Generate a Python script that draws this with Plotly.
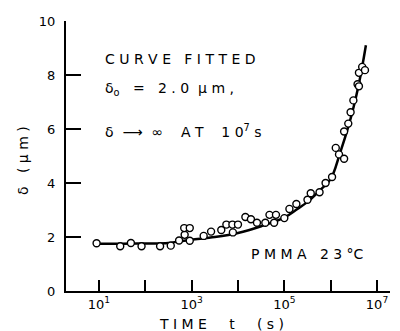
import plotly.graph_objects as go

# measured data points (time in s, delta in micrometres)
pt_logt = [0.95, 1.46, 1.69, 1.92, 2.32, 2.55, 2.73, 2.85, 2.84, 2.96, 2.96,
           3.26, 3.42, 3.64, 3.75, 3.88, 4.00, 3.89, 4.16, 4.28, 4.41, 4.59,
           4.68, 4.82, 4.78, 5.00, 5.11, 5.26, 5.50, 5.57, 5.76, 5.89, 6.03,
           6.11, 6.18, 6.29, 6.29, 6.38, 6.43, 6.49, 6.58, 6.61, 6.61, 6.68, 6.74]
pt_delta = [1.77, 1.66, 1.78, 1.66, 1.66, 1.68, 1.87, 2.08, 2.33, 2.33, 1.86,
            2.04, 2.20, 2.26, 2.46, 2.46, 2.46, 2.17, 2.74, 2.66, 2.53, 2.53,
            2.82, 2.82, 2.53, 2.70, 3.04, 3.22, 3.38, 3.62, 3.66, 4.00, 4.22,
            5.30, 5.06, 4.90, 5.91, 6.20, 6.62, 7.06, 7.66, 7.58, 8.08, 8.30, 8.18]
pt_t = [10 ** v for v in pt_logt]

# fitted curve
fit_logt = [0.95, 1.5, 2.0, 2.5, 2.8, 3.0, 3.5, 4.0, 4.5, 5.0, 5.25, 5.5,
            5.75, 6.0, 6.2, 6.4, 6.5, 6.6, 6.7, 6.76]
fit_delta = [1.75, 1.75, 1.76, 1.78, 1.85, 1.9, 2.0, 2.15, 2.4, 2.72, 3.0, 3.3,
             3.7, 4.15, 5.1, 6.2, 6.85, 7.6, 8.5, 9.1]
fit_t = [10 ** v for v in fit_logt]

x_tickvals = [1e1, 1e3, 1e5, 1e7]
x_ticktext = ["10<sup>1</sup>", "10<sup>3</sup>", "10<sup>5</sup>", "10<sup>7</sup>"]
x_minorvals = [1e2, 1e4, 1e6]
y_tickvals = [0, 2, 4, 6, 8, 10]

FONT = "DejaVu Sans"


def spaced(s):
    return " ".join(s)


fig = go.Figure()
fig.add_trace(go.Scatter(x=fit_t, y=fit_delta, mode="lines",
                         line=dict(color="black", width=2.5, shape="spline"),
                         hoverinfo="skip", showlegend=False))
fig.add_trace(go.Scatter(x=pt_t, y=pt_delta, mode="markers",
                         marker=dict(symbol="circle", size=7, color="white",
                                     line=dict(color="black", width=1.4)),
                         showlegend=False))

ann = dict(showarrow=False, font=dict(family=FONT, size=14, color="black"),
           xanchor="left", yanchor="middle")
fig.add_annotation(x=1.09, y=8.59, text=spaced("CURVE FITTED"), **ann)
fig.add_annotation(x=1.09, y=7.47, text="δ<sub>o</sub>   =   2 . 0  μ m ,", **ann)
fig.add_annotation(x=1.09, y=5.92, text="δ  ⟶  ∞    A T    1 0<sup>7</sup> s", **ann)
fig.add_annotation(x=4.23, y=1.37, text="P M M A   2 3 °C", **ann)
fig.add_annotation(x=3.65, yref="paper", y=-0.123,
                   text=spaced("TIME") + "     t     ( s )", **{**ann, "xanchor": "center"})
fig.add_annotation(xref="paper", x=-0.133, y=4.85, text="δ   ( μ m )", textangle=-90,
                   **{**ann, "xanchor": "center"})

fig.update_xaxes(type="log", range=[0.29, 7.28], tickvals=x_tickvals,
                 ticktext=x_ticktext, ticks="inside", ticklen=11, tickwidth=1.5,
                 tickcolor="black", showline=True, linecolor="black", linewidth=2,
                 minor=dict(tickvals=x_minorvals, ticks="inside", ticklen=11,
                            tickwidth=1.5, tickcolor="black", showgrid=False),
                 showgrid=False, zeroline=False, ticklabeloverflow="allow",
                 tickfont=dict(family=FONT, size=13, color="black"))
fig.update_yaxes(range=[0, 10], tickvals=y_tickvals, ticks="inside", ticklen=15,
                 tickwidth=1.5, tickcolor="black", showline=True, linecolor="black",
                 linewidth=2, showgrid=False, zeroline=False, ticklabelstandoff=6,
                 ticklabeloverflow="allow",
                 tickfont=dict(family=FONT, size=13, color="black"))
fig.update_layout(width=392, height=323, margin=dict(l=58, r=10, t=6, b=40),
                  plot_bgcolor="white", paper_bgcolor="white")
fig.write_html("out.html")
